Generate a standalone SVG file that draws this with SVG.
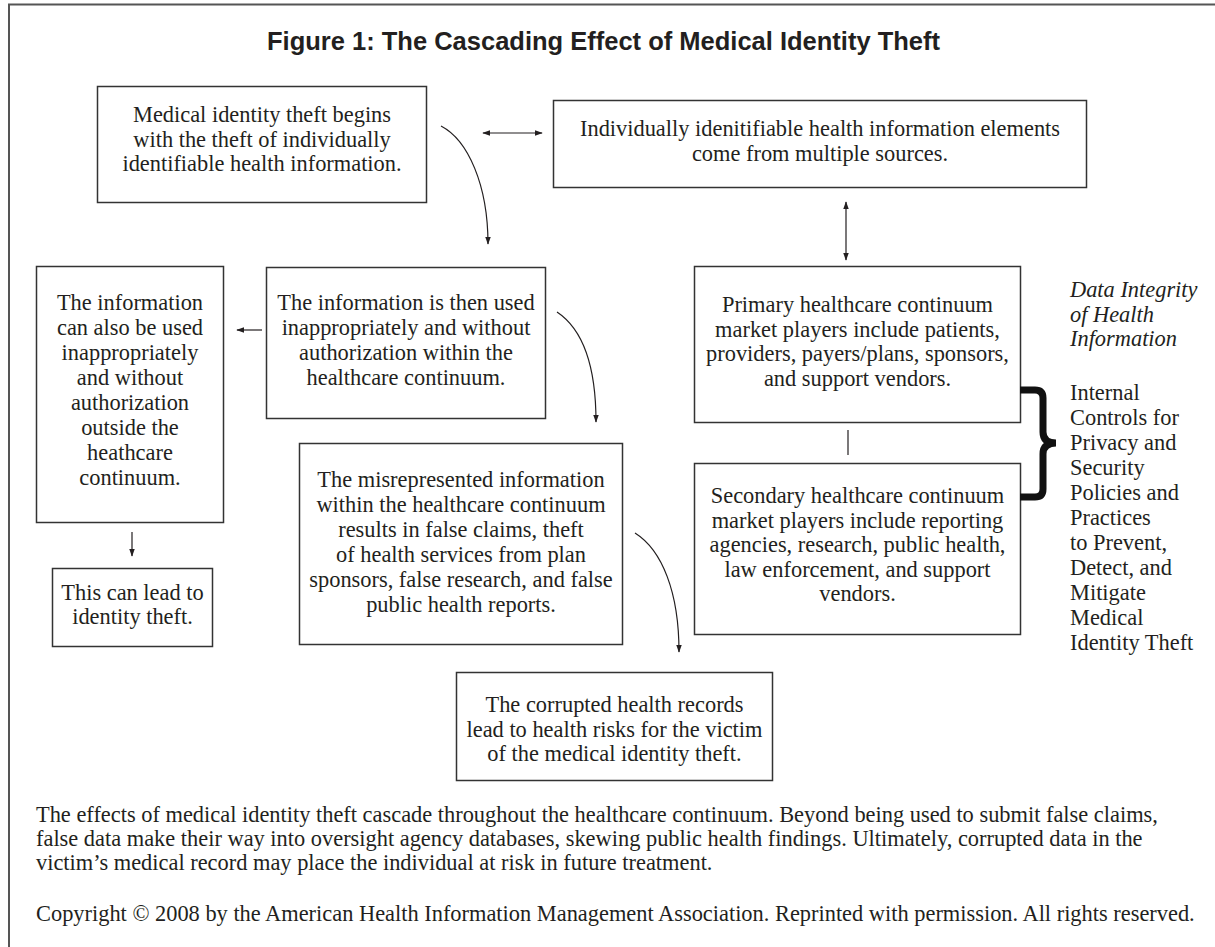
<svg xmlns="http://www.w3.org/2000/svg" width="1215" height="947" viewBox="0 0 1215 947">
<defs>
<marker id="ah" viewBox="0 0 10 10" refX="9" refY="5" markerWidth="8" markerHeight="8" markerUnits="userSpaceOnUse" orient="auto-start-reverse">
<path d="M0,1.5 L10,5 L0,8.5 Z" fill="#231f20"/>
</marker>
<style>
.box{fill:#fff;stroke:#333;stroke-width:1.5}
.t{font-family:"Liberation Serif","Times New Roman",serif;font-size:22.4px;fill:#231f20;text-anchor:middle}
.r{font-family:"Liberation Serif","Times New Roman",serif;font-size:22.4px;fill:#231f20}
.i{font-style:italic}
.c{fill:none;stroke:#231f20;stroke-width:1.2}
.title{font-family:"Liberation Sans",Arial,sans-serif;font-weight:bold;font-size:25.5px;fill:#231f20}
</style>
</defs>
<rect width="1215" height="947" fill="#fff"/>
<path d="M9,947 V4.5 H1215" fill="none" stroke="#555" stroke-width="2"/>
<text class="title" x="267" y="50">Figure 1: The Cascading Effect of Medical Identity Theft</text>

<g id="n1">
<rect class="box" x="97.5" y="86.5" width="329" height="116"/>
<text class="t" x="262"><tspan x="262" y="122">Medical identity theft begins</tspan><tspan x="262" y="146.5">with the theft of individually</tspan><tspan x="262" y="171">identifiable health information.</tspan></text>
</g>
<g id="n2">
<rect class="box" x="553.5" y="100.5" width="533" height="87"/>
<text class="t" x="820"><tspan x="820" y="136">Individually idenitifiable health information elements</tspan><tspan x="820" y="160.5">come from multiple sources.</tspan></text>
</g>
<g id="n3">
<rect class="box" x="694.5" y="266.5" width="326" height="156"/>
<text class="t" x="857.5"><tspan x="857.5" y="312">Primary healthcare continuum</tspan><tspan x="857.5" y="336.5">market players include patients,</tspan><tspan x="857.5" y="361">providers, payers/plans, sponsors,</tspan><tspan x="857.5" y="385.5">and support vendors.</tspan></text>
</g>
<g id="n4">
<rect class="box" x="694.5" y="463.5" width="326" height="171"/>
<text class="t" x="857.5"><tspan x="857.5" y="503">Secondary healthcare continuum</tspan><tspan x="857.5" y="527.5">market players include reporting</tspan><tspan x="857.5" y="552">agencies, research, public health,</tspan><tspan x="857.5" y="576.5">law enforcement, and support</tspan><tspan x="857.5" y="601">vendors.</tspan></text>
</g>
<g id="n5">
<rect class="box" x="36.5" y="266.5" width="187" height="256"/>
<text class="t" x="130"><tspan x="130" y="310">The information</tspan><tspan x="130" y="335">can also be used</tspan><tspan x="130" y="360">inappropriately</tspan><tspan x="130" y="385">and without</tspan><tspan x="130" y="410">authorization</tspan><tspan x="130" y="435">outside the</tspan><tspan x="130" y="460">heathcare</tspan><tspan x="130" y="485">continuum.</tspan></text>
</g>
<g id="n6">
<rect class="box" x="266.5" y="267.5" width="279" height="151"/>
<text class="t" x="406"><tspan x="406" y="310">The information is then used</tspan><tspan x="406" y="335">inappropriately and without</tspan><tspan x="406" y="360">authorization within the</tspan><tspan x="406" y="385">healthcare continuum.</tspan></text>
</g>
<g id="n7">
<rect class="box" x="299.5" y="443.5" width="323" height="201"/>
<text class="t" x="461"><tspan x="461" y="487">The misrepresented information</tspan><tspan x="461" y="512">within the healthcare continuum</tspan><tspan x="461" y="537">results in false claims, theft</tspan><tspan x="461" y="562">of health services from plan</tspan><tspan x="461" y="587">sponsors, false research, and false</tspan><tspan x="461" y="612">public health reports.</tspan></text>
</g>
<g id="n8">
<rect class="box" x="52.5" y="568.5" width="160" height="78"/>
<text class="t" x="132.5"><tspan x="132.5" y="600">This can lead to</tspan><tspan x="132.5" y="624">identity theft.</tspan></text>
</g>
<g id="n9">
<rect class="box" x="456.5" y="672.5" width="316" height="108"/>
<text class="t" x="614.5"><tspan x="614.5" y="712">The corrupted health records</tspan><tspan x="614.5" y="736.5">lead to health risks for the victim</tspan><tspan x="614.5" y="761">of the medical identity theft.</tspan></text>
</g>
<g id="side">
<text class="r i"><tspan x="1070" y="297">Data Integrity</tspan><tspan x="1070" y="321.5">of Health</tspan><tspan x="1070" y="346">Information</tspan></text>
<text class="r"><tspan x="1070" y="400">Internal</tspan><tspan x="1070" y="425">Controls for</tspan><tspan x="1070" y="450">Privacy and</tspan><tspan x="1070" y="475">Security</tspan><tspan x="1070" y="500">Policies and</tspan><tspan x="1070" y="525">Practices</tspan><tspan x="1070" y="550">to Prevent,</tspan><tspan x="1070" y="575">Detect, and</tspan><tspan x="1070" y="600">Mitigate</tspan><tspan x="1070" y="625">Medical</tspan><tspan x="1070" y="650">Identity Theft</tspan></text>
</g>
<g id="connectors">
<path class="c" d="M441,126 C468,140 488,185 488,244" marker-end="url(#ah)"/>
<path class="c" d="M483,133 H542" marker-start="url(#ah)" marker-end="url(#ah)"/>
<path class="c" d="M846,202 V260" marker-start="url(#ah)" marker-end="url(#ah)"/>
<path class="c" d="M848,430 V455"/>
<path class="c" d="M262,330 H237" marker-end="url(#ah)"/>
<path class="c" d="M557,312 C584,330 596,370 596,422" marker-end="url(#ah)"/>
<path class="c" d="M132,532 V556" marker-end="url(#ah)"/>
<path class="c" d="M635,533 C662,550 679,592 679,652" marker-end="url(#ah)"/>
<path d="M1020,390 H1035 Q1043,390 1043,398 V432 Q1043,443 1056,443 Q1043,443 1043,454 V489 Q1043,497 1035,497 H1020" fill="none" stroke="#111" stroke-width="7"/>
</g>
<g id="caption">
<text class="r"><tspan x="36" y="822">The effects of medical identity theft cascade throughout the healthcare continuum. Beyond being used to submit false claims,</tspan><tspan x="36" y="846">false data make their way into oversight agency databases, skewing public health findings. Ultimately, corrupted data in the</tspan><tspan x="36" y="870">victim’s medical record may place the individual at risk in future treatment.</tspan></text>
<text class="r" x="36" y="921">Copyright © 2008 by the American Health Information Management Association. Reprinted with permission. All rights reserved.</text>
</g>
</svg>
